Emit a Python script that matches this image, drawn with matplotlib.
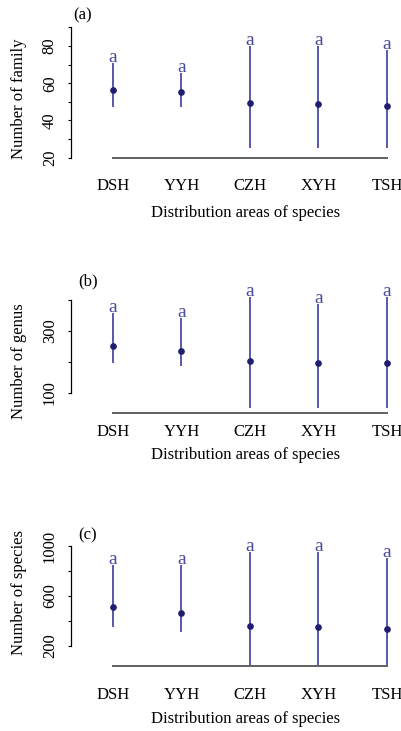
import numpy as np
import matplotlib.pyplot as plt

# distribution areas
areas = ['DSH', 'YYH', 'CZH', 'XYH', 'TSH']
letters = ['a', 'a', 'a', 'a', 'a']

# (a) family
family_mean = [56.4, 55.1, 49.5, 48.7, 47.9]
family_low = [47.1, 47.1, 25.4, 25.4, 25.4]
family_high = [71.0, 65.6, 80.0, 80.0, 77.6]

# (b) genus
genus_mean = [252, 236, 203, 197, 195]
genus_low = [195, 186, 50, 50, 50]
genus_high = [357, 341, 410, 386, 410]

# (c) species
species_mean = [510, 466, 360, 350, 336]
species_low = [354, 314, 48, 48, 48]
species_high = [848, 848, 952, 952, 904]

plt.rcParams['font.family'] = ['Liberation Serif', 'DejaVu Serif']

W, H = 402, 731
fig = plt.figure(figsize=(W / 100, H / 100), dpi=100)

line_col = '#5858a8'
pt_col = '#1e1e70'
txt_col = '#4a4aa0'
fs = 12

# panel layout in pixels
panels = [
    dict(tag='(a)', ylabel='Number of family', mean=family_mean, low=family_low, high=family_high,
         top=20, bot=157.7, ylim=(20, 93.95), ticks=[20, 30, 40, 50, 60, 70, 80, 90],
         tlab=['20', '', '40', '', '60', '', '80', ''], tag_xy=(83, 15), ylab_y=98.5, xpad=28, xlab_y=212.7),
    dict(tag='(b)', ylabel='Number of genus', mean=genus_mean, low=genus_low, high=genus_high,
         top=280, bot=412.7, ylim=(35.3, 464.7), ticks=[100, 200, 300, 400],
         tlab=['100', '', '300', ''], tag_xy=(88, 281.7), ylab_y=360.8, xpad=19, xlab_y=455),
    dict(tag='(c)', ylabel='Number of species', mean=species_mean, low=species_low, high=species_high,
         top=535, bot=666, ylim=(40, 1088), ticks=[200, 400, 600, 800, 1000],
         tlab=['200', '', '600', '', '1000'], tag_xy=(88, 535), ylab_y=592.5, xpad=29, xlab_y=719.3),
]

x = np.arange(1, len(areas) + 1)
left_px = 71

for p in panels:
    ax = fig.add_axes([left_px / W, 1 - p['bot'] / H, (W - left_px) / W, (p['bot'] - p['top']) / H])
    ax.set_xlim(0.387, 5.219)
    ax.set_ylim(*p['ylim'])
    ax.patch.set_alpha(0)

    ax.vlines(x, p['low'], p['high'], color=line_col, lw=1.4)
    ax.plot(x, p['mean'], 'o', color=pt_col, ms=3.8, zorder=3)
    for xi, hi, lt in zip(x, p['high'], letters):
        ax.annotate(lt, (xi, hi), xytext=(0, 1), textcoords='offset pixels',
                    ha='center', va='baseline', color=txt_col, fontsize=14)

    for s in ['top', 'right']:
        ax.spines[s].set_visible(False)
    ax.spines['left'].set_bounds(p['ticks'][0], p['ticks'][-1])
    ax.spines['left'].set_linewidth(0.9)
    ax.spines['bottom'].set_bounds(1, 5)
    ax.spines['bottom'].set_color('#606060')
    ax.spines['bottom'].set_linewidth(1.4)

    ax.set_yticks(p['ticks'])
    ax.set_yticklabels(p['tlab'], rotation=90, va='center', fontsize=fs)
    ax.tick_params(axis='y', length=2.5, width=0.8, pad=7)

    ax.set_xticks(x)
    ax.set_xticklabels(areas, fontsize=fs)
    ax.tick_params(axis='x', length=0, pad=(p['xpad'] - 8) * 0.72)

    fig.text(19 / W, 1 - p['ylab_y'] / H, p['ylabel'], rotation=90,
             ha='center', va='center', fontsize=fs)
    fig.text(246 / W, 1 - p['xlab_y'] / H, 'Distribution areas of species',
             ha='center', va='center', fontsize=fs)
    fig.text(p['tag_xy'][0] / W, 1 - p['tag_xy'][1] / H, p['tag'],
             ha='center', va='center', fontsize=fs)

fig.savefig('out.png', dpi=100)
